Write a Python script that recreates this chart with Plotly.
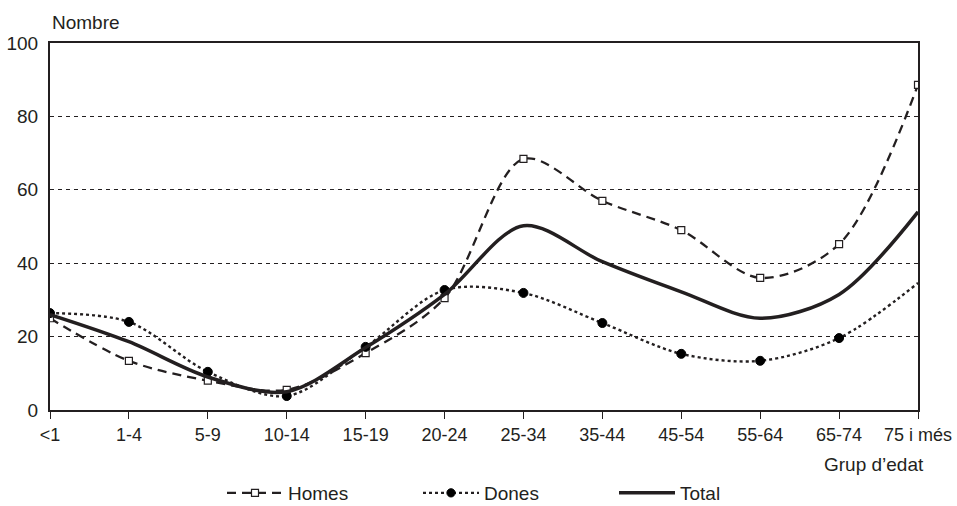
import plotly.graph_objects as go

categories = ["<1", "1-4", "5-9", "10-14", "15-19", "20-24", "25-34", "35-44", "45-54", "55-64", "65-74", "75 i més"]
homes = [25, 13.4, 8, 5.5, 15.5, 30.5, 68.4, 57, 49, 36, 45.2, 88.6]
dones = [26.4, 24, 10.4, 3.8, 17.2, 32.7, 31.9, 23.7, 15.3, 13.4, 19.6, 34.6]
total = [26, 18.6, 9, 5, 17, 31.5, 50.2, 40.4, 32.2, 25, 31.5, 54]
y_ticks = [0, 20, 40, 60, 80, 100]

ink = "#231f20"
font = "Liberation Sans, Arial, sans-serif"

fig = go.Figure()
fig.add_trace(go.Scatter(
    x=categories, y=homes, name="Homes", mode="lines+markers",
    line=dict(color=ink, width=2.3, dash="9px,6px", shape="spline", smoothing=0.9),
    marker=dict(symbol="square", size=7, color="white", line=dict(width=1.2, color=ink)),
))
fig.add_trace(go.Scatter(
    x=categories, y=dones, name="Dones", mode="lines+markers",
    line=dict(color=ink, width=2.4, dash="dot", shape="spline", smoothing=0.9),
    marker=dict(symbol="circle", size=[9] * 11 + [0], color="black",
                line=dict(width=1, color="black"), opacity=1),
))
fig.add_trace(go.Scatter(
    x=categories, y=total, name="Total", mode="lines",
    line=dict(color=ink, width=3.5, shape="spline", smoothing=0.9),
))

fig.update_layout(
    width=957, height=506,
    margin=dict(l=50, r=39, t=43, b=96, autoexpand=False),
    paper_bgcolor="white", plot_bgcolor="white",
    font=dict(family=font, size=19, color=ink),
    showlegend=True,
    legend=dict(orientation="h", x=(222 - 50) / 868, xanchor="left",
                y=-(493 - 410) / 367, yanchor="middle",
                font=dict(size=19), itemwidth=56, entrywidth=125,
                traceorder="normal"),
    xaxis=dict(
        type="category", range=[0, 11], showgrid=False,
        showline=True, linecolor=ink, linewidth=2, mirror=True,
        ticks="outside", ticklen=7, tickcolor=ink, tickwidth=1,
        tickfont=dict(size=18), zeroline=False,
    ),
    yaxis=dict(
        range=[0, 100], tickvals=y_ticks, showgrid=True,
        gridcolor=ink, gridwidth=1, griddash="4px,4px",
        showline=True, linecolor=ink, linewidth=2, mirror=True,
        ticks="", ticklabelstandoff=6, tickfont=dict(size=19), zeroline=False,
    ),
    annotations=[
        dict(text="Nombre", xref="paper", yref="paper", x=0.0, y=1 + (43 - 22.5) / 367,
             xanchor="left", yanchor="middle", showarrow=False, font=dict(size=19)),
        dict(text="Grup d’edat", xref="paper", yref="paper", x=(926 - 50) / 868,
             y=-(465 - 410) / 367,
             xanchor="right", yanchor="middle", showarrow=False, font=dict(size=19)),
    ],
)

fig.write_html("out.html", config={"displayModeBar": False},
               post_script="document.body.style.margin='0px';")
